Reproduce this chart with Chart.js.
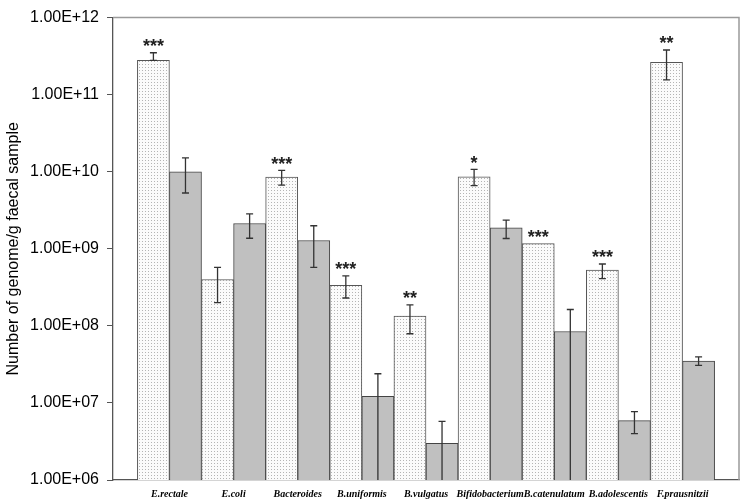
<!DOCTYPE html>
<html>
<head>
<meta charset="utf-8">
<script src="https://cdn.jsdelivr.net/npm/chart.js@4/dist/chart.umd.min.js"></script>
<style>
  html, body { margin: 0; padding: 0; background: #fff; }
</style>
</head>
<body>
<canvas id="genomeChart" width="745" height="502"></canvas>
<script>
// categories (bacterial groups)
const categories = ['E.rectale', 'E.coli', 'Bacteroides', 'B.uniformis', 'B.vulgatus',
                    'Bifidobacterium', 'B.catenulatum', 'B.adolescentis', 'F.prausnitzii'];

// dotted series + error bar ends
const seriesA     = [2.78e11, 4.0e8, 8.5e9, 3.36e8, 1.34e8, 8.6e9, 1.17e9, 5.3e8, 2.62e11];
const seriesAHigh = [3.5e11, 5.75e8, 1.04e10, 4.46e8, 1.87e8, 1.07e10, 1.17e9, 6.35e8, 3.8e11];
const seriesALow  = [2.78e11, 2.0e8, 6.7e9, 2.3e8, 7.9e7, 6.6e9, 1.17e9, 4.1e8, 1.56e11];

// grey series + error bar ends (0 = runs below the axis)
const seriesB     = [1.0e10, 2.13e9, 1.28e9, 1.22e7, 3.0e6, 1.87e9, 8.45e7, 5.9e6, 3.48e7];
const seriesBHigh = [1.51e10, 2.84e9, 1.99e9, 2.39e7, 5.75e6, 2.36e9, 1.63e8, 7.7e6, 3.96e7];
const seriesBLow  = [5.3e9, 1.37e9, 5.75e8, 0, 0, 1.36e9, 0, 4.0e6, 3.07e7];

// significance marks over the dotted bars
const stars = ['***', '', '***', '***', '**', '*', '***', '***', '**'];

const yMin = 1e6;
const yMax = 1e12;

// dotted fill
function makeDots() {
    const c = document.createElement('canvas');
    c.width = 3;
    c.height = 3;
    const g = c.getContext('2d');
    g.fillStyle = '#fbfbfb';
    g.fillRect(0, 0, 3, 3);
    g.fillStyle = '#b4b4b4';
    g.fillRect(1, 1, 1, 1);
    return g.createPattern(c, 'repeat');
}

function expLabel(v) {
    const e = Math.round(Math.log10(v));
    const m = v / Math.pow(10, e);
    return m.toFixed(2) + 'E+' + String(e).padStart(2, '0');
}

// grey frame on top and right of the plot
const framePlugin = {
    id: 'frame',
    beforeDatasetsDraw(chart) {
        const { ctx, chartArea } = chart;
        ctx.save();
        ctx.strokeStyle = '#9a9a9a';
        ctx.lineWidth = 1.5;
        ctx.beginPath();
        ctx.moveTo(chartArea.left, chartArea.top);
        ctx.lineTo(chartArea.right, chartArea.top);
        ctx.lineTo(chartArea.right, chartArea.bottom);
        ctx.stroke();
        ctx.restore();
    }
};

const errorBarPlugin = {
    id: 'errorBars',
    afterDatasetsDraw(chart) {
        const ctx = chart.ctx;
        const yScale = chart.scales.y;
        const bounds = [[seriesAHigh, seriesALow], [seriesBHigh, seriesBLow]];
        ctx.save();
        ctx.strokeStyle = '#333';
        ctx.lineWidth = 1.3;
        bounds.forEach(([hi, lo], d) => {
            chart.getDatasetMeta(d).data.forEach((bar, i) => {
                if (hi[i] === lo[i]) return;
                const yHi = yScale.getPixelForValue(hi[i]);
                const yLo = lo[i] > 0 ? yScale.getPixelForValue(lo[i]) : yScale.bottom;
                ctx.beginPath();
                ctx.moveTo(bar.x, yHi);
                ctx.lineTo(bar.x, yLo);
                ctx.moveTo(bar.x - 3.5, yHi);
                ctx.lineTo(bar.x + 3.5, yHi);
                if (lo[i] > 0) {
                    ctx.moveTo(bar.x - 3.5, yLo);
                    ctx.lineTo(bar.x + 3.5, yLo);
                }
                ctx.stroke();
            });
        });

        // asterisks
        ctx.fillStyle = '#222';
        ctx.font = 'bold 18px "Liberation Sans", Arial, sans-serif';
        ctx.textAlign = 'center';
        ctx.textBaseline = 'alphabetic';
        chart.getDatasetMeta(0).data.forEach((bar, i) => {
            if (!stars[i]) return;
            ctx.fillText(stars[i], bar.x, yScale.getPixelForValue(seriesAHigh[i]) - 0.5);
        });
        ctx.restore();
    }
};

const ctx = document.getElementById('genomeChart').getContext('2d');
const genomeChart = new Chart(ctx, {
    type: 'bar',
    data: {
        datasets: [{
            label: 'Dotted',
            data: seriesA.map((v, i) => ({ x: i, y: v })),
            backgroundColor: makeDots(),
            borderColor: '#555',
            borderWidth: 1
        }, {
            label: 'Grey',
            data: seriesB.map((v, i) => ({ x: i, y: v })),
            backgroundColor: '#c0c0c0',
            borderColor: '#444',
            borderWidth: 1
        }]
    },
    options: {
        responsive: false,
        animation: false,
        categoryPercentage: 1,
        barPercentage: 1,
        layout: { padding: { top: 12, right: 6, left: 0, bottom: 0 } },
        plugins: {
            legend: { display: false },
            tooltip: { enabled: false }
        },
        scales: {
            x: {
                type: 'linear',
                offset: false,
                min: -0.88,
                max: categories.length - 1 + 0.88,
                grid: { display: false, drawTicks: false },
                border: { display: true, color: '#555', width: 1.3 },
                afterFit: s => { s.height = 22; },
                ticks: {
                    stepSize: 1,
                    includeBounds: false,
                    autoSkip: false,
                    maxRotation: 0,
                    padding: 8,
                    color: '#000',
                    font: { family: '"Liberation Serif", "Times New Roman", serif', size: 10, style: 'italic', weight: 'bold' },
                    callback: v => categories[v] || ''
                }
            },
            y: {
                type: 'logarithmic',
                min: yMin,
                max: yMax,
                afterFit: s => { s.width = 113; },
                afterBuildTicks: s => {
                    s.ticks = s.ticks.filter(t => Math.abs(Math.log10(t.value) - Math.round(Math.log10(t.value))) < 1e-9);
                },
                grid: {
                    drawOnChartArea: false,
                    tickLength: 6,
                    tickColor: '#555'
                },
                border: { display: true, color: '#555', width: 1.3 },
                ticks: {
                    padding: 8,
                    color: '#000',
                    font: { family: '"Liberation Sans", Arial, sans-serif', size: 16 },
                    callback: v => expLabel(v)
                },
                title: {
                    display: true,
                    text: 'Number of genome/g faecal sample',
                    color: '#000',
                    font: { family: '"Liberation Sans", Arial, sans-serif', size: 16 },
                    padding: { top: 4, bottom: 0 }
                }
            }
        }
    },
    plugins: [framePlugin, errorBarPlugin]
});
</script>
</body>
</html>
